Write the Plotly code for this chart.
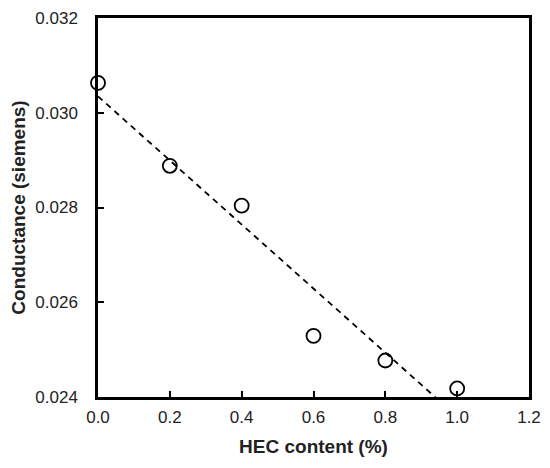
import numpy as np
import plotly.graph_objects as go

hec_content = [0.0, 0.2, 0.4, 0.6, 0.8, 1.0]
conductance = [0.03063, 0.02888, 0.02804, 0.02529, 0.02477, 0.02418]
x_ticks = [0.0, 0.2, 0.4, 0.6, 0.8, 1.0, 1.2]
y_ticks = [0.024, 0.026, 0.028, 0.030, 0.032]

slope, intercept = np.polyfit(hec_content, conductance, 1)
trend_x = [0.0, 1.2]
trend_y = [intercept + slope * v for v in trend_x]

fig = go.Figure()
fig.add_trace(go.Scatter(
    x=trend_x, y=trend_y, mode="lines",
    line=dict(color="black", width=1.8, dash="6px,5px"),
    showlegend=False, hoverinfo="skip",
))
fig.add_trace(go.Scatter(
    x=hec_content, y=conductance, mode="markers",
    marker=dict(symbol="circle-open", size=14, color="black", line=dict(width=1.8, color="black")),
    cliponaxis=False, showlegend=False,
))

font = "Liberation Sans, Arial, sans-serif"
fig.update_layout(
    template="none",
    width=550, height=468,
    margin=dict(l=98, r=21, t=18, b=71, autoexpand=False),
    paper_bgcolor="white", plot_bgcolor="white",
    font=dict(family=font, color="black", size=17),
)
fig.update_xaxes(
    automargin=False,
    range=[0, 1.2], tickvals=x_ticks, tickformat=".1f",
    showline=True, linecolor="black", linewidth=2.5, mirror=True,
    ticks="inside", ticklen=6, tickwidth=1.5, tickcolor="black",
    showgrid=False, zeroline=False,
    tickfont=dict(size=17, family=font, color="#222"),
    ticklabelstandoff=3,
    title=dict(text="<b>HEC content (%)</b>", font=dict(size=19, family=font, color="#222"), standoff=14),
)
fig.update_yaxes(
    automargin=False,
    range=[0.024, 0.032], tickvals=y_ticks, tickformat=".3f",
    showline=True, linecolor="black", linewidth=2.5, mirror=True,
    ticks="inside", ticklen=6, tickwidth=1.5, tickcolor="black",
    showgrid=False, zeroline=False,
    tickfont=dict(size=17, family=font, color="#222"),
    ticklabelstandoff=14,
    title=dict(text="<b>Conductance (siemens)</b>", font=dict(size=19, family=font, color="#222"), standoff=5),
)

fig.write_html(
    "out.html",
    config={"displayModeBar": False},
    post_script="document.body.style.margin='0';document.body.style.overflow='hidden';",
)
